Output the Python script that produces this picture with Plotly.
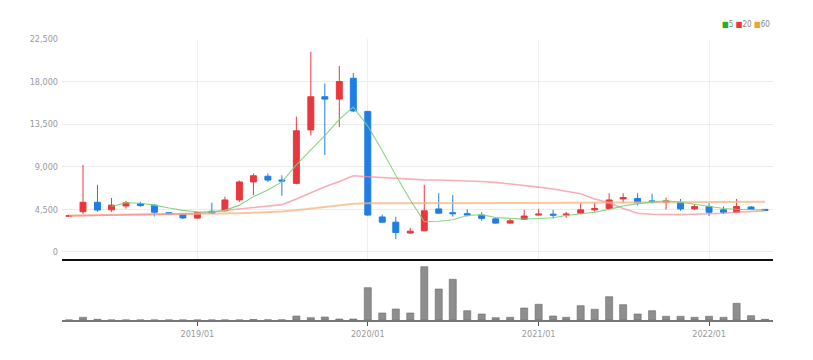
import pandas as pd
import plotly.graph_objects as go

months = pd.date_range("2018-04-01", "2022-05-01", freq="MS")

opens = [3780, 4260, 5250, 4450, 4860, 5100, 4950, 4150, 3950,
         3580, 4300, 4350, 5500, 7400, 8000, 7600, 7250, 12900, 16400, 16150, 18350,
         14850, 3700, 3150, 2000, 2250, 4550, 4150, 4050, 3900, 3500, 3050, 3450,
         3900, 4000, 3900, 4100, 4450, 4600, 5600, 5650, 5400, 5250, 5250, 4550,
         4800, 4450, 4200, 4750, 4500]
highs = [3950, 9200, 7100, 5700, 5400, 5300, 5050, 4200, 4000,
         4250, 5200, 5850, 7550, 8300, 8300, 8100, 14300, 21150, 17800, 19650, 18900,
         14900, 3950, 3700, 2550, 7100, 6200, 6000, 4500, 4200, 3600, 3500, 4450,
         4550, 4450, 4250, 5150, 5200, 6200, 6200, 6200, 6150, 5750, 5600, 5050,
         5150, 4800, 5600, 4850, 4550]
lows = [3700, 4000, 4250, 4250, 4600, 4800, 3750, 3900, 3500,
        3500, 4000, 4300, 5300, 6000, 7400, 5950, 7150, 12300, 10250, 13200, 14800,
        3850, 3100, 1350, 1950, 2200, 4050, 3750, 3750, 3300, 3000, 3000, 3380,
        3850, 3550, 3620, 4000, 4250, 4550, 5150, 4900, 5150, 4500, 4350, 4450,
        3800, 4000, 4100, 4450, 4350]
closes = [3820, 5250, 4430, 4950, 5200, 4900, 4200, 3950, 3600,
          4150, 4100, 5500, 7400, 8050, 7600, 7500, 12800, 16400, 16150, 18000, 14900,
          3900, 3150, 2050, 2200, 4350, 4100, 4050, 3900, 3550, 3050, 3300, 3800,
          4000, 3900, 4000, 4450, 4600, 5500, 5750, 5250, 5300, 5400, 4550, 4800,
          4200, 4200, 4800, 4500, 4400]

ma5 = [None, None, None, 4800, 5200, 5150, 4950, 4650, 4400,
       4250, 4200, 4400, 4950, 5850, 6550, 7400, 9200, 10800, 12300, 14000, 15300,
       13300, 10700, 8100, 5500, 3200, 3250, 3400, 3850, 3950, 3650, 3550, 3480,
       3540, 3620, 3850, 4050, 4200, 4500, 4860, 5110, 5280, 5400, 5250, 5060,
       4800, 4600, 4520, 4500, 4430]
ma20 = [3800, 3850, 3880, 3900, 3930, 3950, 3970, 3990, 4020,
        4080, 4250, 4400, 4550, 4700, 4850, 5000, 5600, 6250, 6900, 7450, 8050,
        7950, 7850, 7750, 7680, 7620, 7600, 7570, 7530, 7450, 7350, 7200, 7000,
        6850, 6650, 6400, 6150, 5600, 5200, 4600, 4100, 3980, 3950, 3950, 3980,
        4020, 4100, 4200, 4300, 4350]
ma60 = [3850, 3870, 3890, 3900, 3910, 3920, 3930, 3940, 3960,
        3990, 4030, 4060, 4100, 4150, 4200, 4280, 4420, 4580, 4760, 4930, 5100,
        5150, 5160, 5170, 5170, 5170, 5170, 5170, 5170, 5170, 5170, 5170, 5170,
        5180, 5190, 5200, 5210, 5220, 5230, 5240, 5250, 5260, 5270, 5280, 5290,
        5300, 5300, 5310, 5320, 5320]

volumes = [3, 270, 70, 3, 3, 3, 3, 3, 3,
           3, 3, 3, 3, 50, 15, 15, 400, 230, 300, 100, 100,
           3230, 700, 1100, 700, 5330, 3100, 4070, 930, 600, 230, 270, 1200,
           1570, 400, 270, 1430, 1070, 2330, 1530, 600, 930, 370, 370, 270,
           370, 270, 1670, 430, 70]

y_ticks = [0, 4500, 9000, 13500, 18000, 22500]
y_tick_labels = ["0", "4,500", "9,000", "13,500", "18,000", "22,500"]
x_ticks = ["2019-01-01", "2020-01-01", "2021-01-01", "2022-01-01"]
x_tick_labels = ["2019/01", "2020/01", "2021/01", "2022/01"]

RED = "#e8383d"
BLUE = "#1f7de6"
FONT = "DejaVu Sans Condensed, Liberation Sans Narrow, sans-serif"

# page body adds an 8px offset; figure sized to fit the 813x360 window
W, H = 805, 352
ML, MR, MT, MB = 54, 40, 31, 40

fig = go.Figure()

fig.add_trace(go.Scatter(x=months, y=ma60, mode="lines",
                         line=dict(color="rgba(246,180,130,0.75)", width=2),
                         showlegend=False, hoverinfo="skip"))
fig.add_trace(go.Scatter(x=months, y=ma20, mode="lines",
                         line=dict(color="rgba(243,140,150,0.7)", width=1.6),
                         showlegend=False, hoverinfo="skip"))
fig.add_trace(go.Scatter(x=months, y=ma5, mode="lines",
                         line=dict(color="rgba(120,210,120,0.9)", width=1.1),
                         showlegend=False, hoverinfo="skip"))

fig.add_trace(go.Candlestick(
    x=months, open=opens, high=highs, low=lows, close=closes,
    increasing=dict(line=dict(color=RED, width=1), fillcolor=RED),
    decreasing=dict(line=dict(color=BLUE, width=1), fillcolor=BLUE),
    whiskerwidth=0, showlegend=False,
))

fig.add_trace(go.Bar(x=months, y=volumes, xaxis="x2", yaxis="y2",
                     marker=dict(color="#8e8e8e", line=dict(color="#6a6a6a", width=0.6)),
                     showlegend=False))

x_range = ["2018-03-17", "2022-05-18"]

plot_w = W - ML - MR
plot_h = H - MT - MB

fig.update_layout(
    width=W, height=H,
    margin=dict(l=ML, r=MR, t=MT, b=MB),
    paper_bgcolor="white", plot_bgcolor="white",
    boxgap=0.35, bargap=0.46,
    font=dict(family=FONT, size=9, color="#999999"),
    xaxis=dict(domain=[0, 1], anchor="y", type="date", range=x_range,
               tickvals=x_ticks, ticktext=x_tick_labels, showticklabels=False,
               showgrid=True, gridcolor="#efefef", gridwidth=1,
               showline=True, linecolor="#111111", linewidth=2,
               rangeslider=dict(visible=False), zeroline=False),
    yaxis=dict(domain=[(312 - 251) / plot_h, 1], anchor="x", range=[-740, 22500],
               tickvals=y_ticks, ticktext=y_tick_labels,
               showgrid=True, gridcolor="#ececec", gridwidth=1,
               zeroline=False, showline=False, ticks="", ticklabelstandoff=3,
               tickfont=dict(family=FONT, size=9, color="#999999")),
    xaxis2=dict(domain=[0, 1], anchor="y2", type="date", range=x_range,
                matches="x",
                tickvals=x_ticks, ticktext=x_tick_labels,
                showgrid=False, showline=True, linecolor="#777777", linewidth=2,
                ticks="outside", ticklen=4, tickcolor="#555555",
                tickfont=dict(family=FONT, size=9, color="#999999")),
    yaxis2=dict(domain=[0, (312 - 253) / plot_h], anchor="x2", range=[0, 5900],
                showticklabels=False, showgrid=False, zeroline=False, showline=False),
    annotations=[dict(
        x=(764 - ML) / plot_w, y=1 + (MT - 16) / plot_h,
        xref="paper", yref="paper", showarrow=False,
        xanchor="right", yanchor="middle",
        text=("<span style='color:#22b022'>■</span>5 "
              "<span style='color:#e8383d'>■</span>20 "
              "<span style='color:#f5a033'>■</span>60"),
        font=dict(family=FONT, size=8, color="#888888"))],
)

fig.write_html("out.html")
